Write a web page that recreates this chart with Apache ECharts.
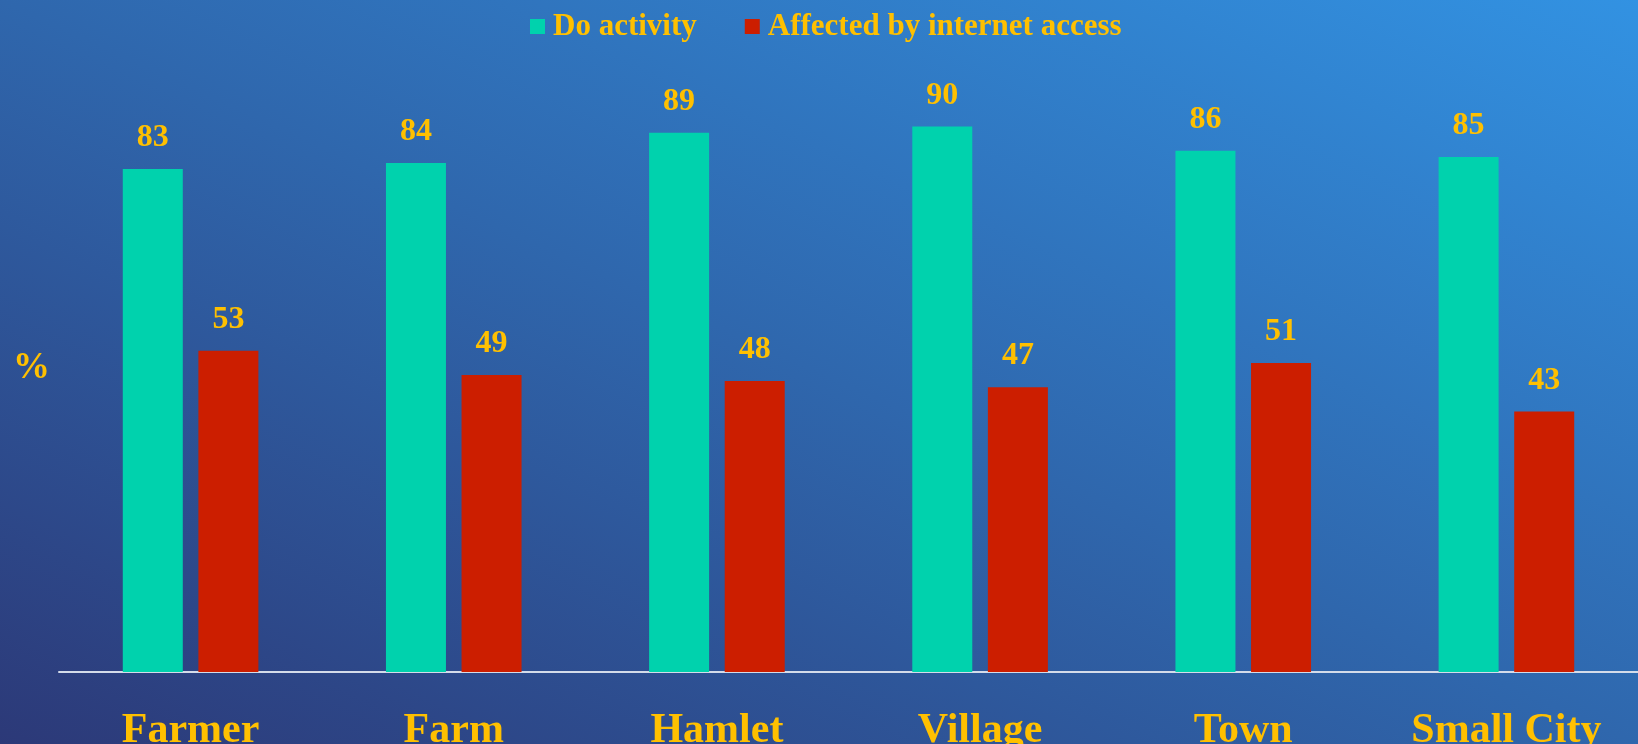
<!DOCTYPE html>
<html>
<head>
<meta charset="utf-8">
<script src="https://cdn.jsdelivr.net/npm/echarts@6/dist/echarts.min.js"></script>
<style>
  html, body { margin: 0; padding: 0; }
  body {
    width: 1638px;
    height: 744px;
    overflow: hidden;
    background: linear-gradient(to top right, #2c3978 0%, #2f67ad 50%, #3292e2 100%);
  }
  #chart { width: 1638px; height: 744px; }
</style>
</head>
<body>
<div id="chart"></div>
<script>
const categories = ['Farmer', 'Farm', 'Hamlet', 'Village', 'Town', 'Small City'];
const doActivity = [83, 84, 89, 90, 86, 85];
const affectedByInternet = [53, 49, 48, 47, 51, 43];

const gold = '#ffc000';
const serif = '"Liberation Serif", "Times New Roman", serif';

const chart = echarts.init(document.getElementById('chart'));

const valueLabel = {
  show: true,
  position: 'top',
  distance: 15,
  color: gold,
  fontFamily: serif,
  fontWeight: 'bold',
  fontSize: 32,
};

chart.setOption({
  backgroundColor: 'transparent',
  animation: false,
  textStyle: { fontFamily: serif },
  legend: {
    left: 525,
    top: 6,
    icon: 'rect',
    itemWidth: 15,
    itemHeight: 15,
    itemGap: 48,
    textStyle: {
      color: gold,
      fontFamily: serif,
      fontWeight: 'bold',
      fontSize: 31,
      padding: [0, 0, 0, 3],
    },
    data: ['Do activity', 'Affected by internet access'],
  },
  graphic: [{
    type: 'text',
    left: 13,
    top: 350,
    style: {
      text: '%',
      fill: gold,
      font: 'bold 37px ' + serif,
    },
  }],
  grid: { left: 59, right: 0, top: 66, bottom: 72, outerBoundsMode: 'none' },
  xAxis: {
    type: 'category',
    data: categories,
    axisLine: { lineStyle: { color: '#d4dcea', width: 2 } },
    axisTick: { show: false },
    axisLabel: {
      margin: 38,
      color: gold,
      fontFamily: serif,
      fontWeight: 'bold',
      fontSize: 42,
    },
  },
  yAxis: {
    type: 'value',
    min: 0,
    max: 100,
    show: false,
    splitLine: { show: false },
  },
  series: [
    {
      name: 'Do activity',
      type: 'bar',
      data: doActivity,
      barWidth: 60,
      barGap: '26%',
      itemStyle: { color: '#00d2ad' },
      label: valueLabel,
    },
    {
      name: 'Affected by internet access',
      type: 'bar',
      data: affectedByInternet,
      barWidth: 60,
      itemStyle: { color: '#cc1e00' },
      label: valueLabel,
    },
  ],
});
</script>
</body>
</html>
